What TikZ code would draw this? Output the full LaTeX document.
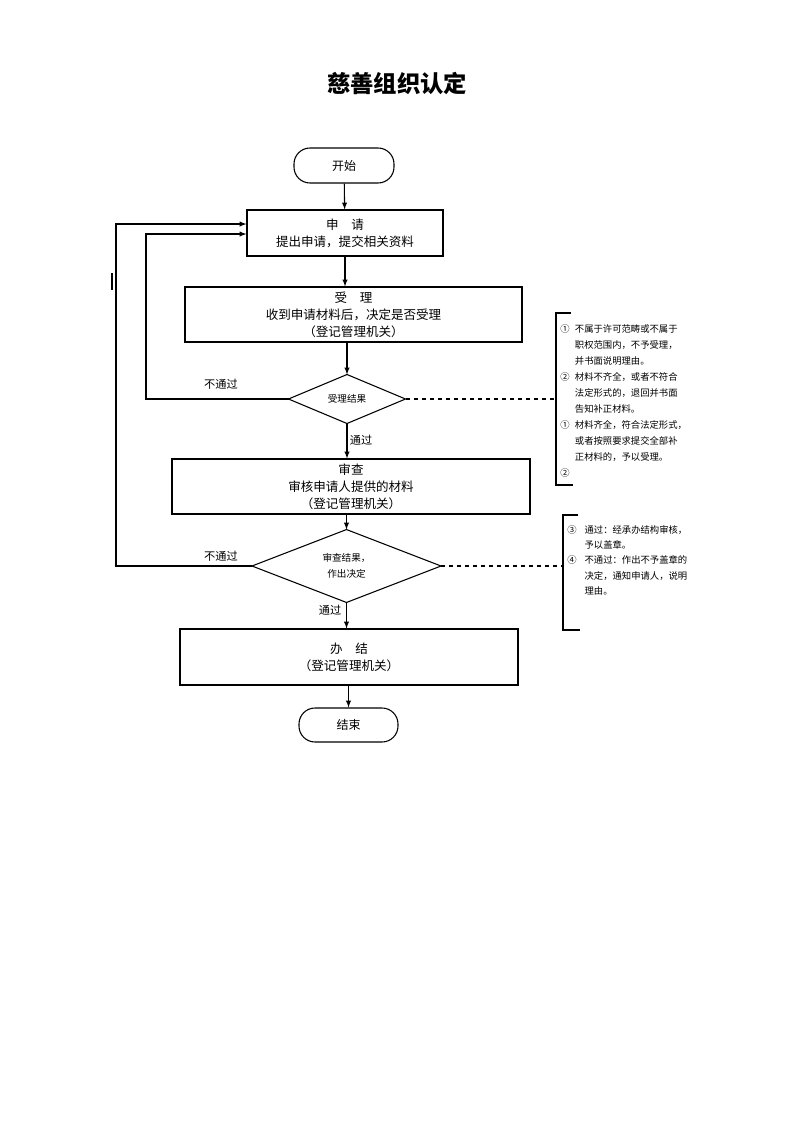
\documentclass[tikz,border=0pt]{standalone}
\usepackage{fontspec}
\setmainfont{Noto Sans CJK SC}
\usetikzlibrary{shapes.geometric}
\tikzset{
  stepbox/.style={draw, line width=0.8pt, rectangle, align=center, inner sep=0pt, font=\fontsize{9.4}{12.8}\selectfont},
  termbox/.style={draw, line width=0.8pt, rounded corners=12pt, inner sep=0pt, font=\fontsize{9}{11}\selectfont},
  checkbox/.style={draw, line width=0.8pt, diamond, inner sep=0pt, outer sep=0pt, align=center, font=\fontsize{7.2}{12}\selectfont},
  flowlabel/.style={font=\fontsize{8.4}{10}\selectfont, inner sep=0pt},
  notetext/.style={anchor=north west, inner sep=0pt},
}
\begin{document}
\begin{tikzpicture}[x=0.75pt, y=-0.75pt, >=latex]
\useasboundingbox (0,0) rectangle (793,1122);
\node[font=\fontsize{17.5}{20}\selectfont\bfseries] (title) at (397,83) {慈善组织认定};
% main column
\node[termbox, minimum width=75pt, minimum height=26.25pt] (start) at (344,165.5) {开始};
\node[stepbox, minimum width=147pt, minimum height=34.5pt] (apply) at (345,233) {申\hspace{1em}请\\提出申请，提交相关资料};
\node[stepbox, minimum width=252.75pt, minimum height=41.25pt] (accept) at (353.5,314.5) {受\hspace{1em}理\\收到申请材料后，决定是否受理\\（登记管理机关）};
\node[checkbox, minimum width=87.75pt, minimum height=36.75pt] (chk1) at (347,399) {受理结果};
\node[stepbox, minimum width=268.5pt, minimum height=41.25pt] (review) at (351,486.5) {审查\\审核申请人提供的材料\\（登记管理机关）};
\node[checkbox, minimum width=141.75pt, minimum height=52.5pt] (chk2) at (346.5,566) {审查结果，\\作出决定};
\node[stepbox, minimum width=253.5pt, minimum height=42pt] (finish) at (349,657) {办\hspace{1em}结\\（登记管理机关）};
\node[termbox, minimum width=74.25pt, minimum height=25.5pt] (stop) at (348.5,725) {结束};
\draw[line width=0.8pt, ->] (start) -- (apply);
\draw[line width=0.8pt, ->] (apply.south) -- (apply.south |- accept.north);
\draw[line width=0.8pt, ->] (accept.south -| chk1.north) -- (chk1.north);
\draw[line width=0.8pt, ->] (chk1.south) -- (chk1.south |- review.north);
\draw[line width=0.8pt, ->] (review.south -| chk2.north) -- (chk2.north);
\draw[line width=0.8pt, ->] (chk2.south) -- (chk2.south |- finish.north);
\draw[line width=0.8pt, ->] (finish.south -| stop.north) -- (stop.north);
% back loops
\coordinate (back1) at (146,234);
\coordinate (back2) at (116,224);
\draw[line width=0.8pt, ->] (chk1.west) -| (back1) -- (apply.west |- back1);
\draw[line width=0.8pt, ->] (chk2.west) -| (back2) -- (apply.west |- back2);
\draw[line width=0.8pt] (112,273) -- (112,290);
\node[flowlabel] (no1) at (221,384) {不通过};
\node[flowlabel] (yes1) at (361,440) {通过};
\node[flowlabel] (no2) at (221,556) {不通过};
\node[flowlabel] (yes2) at (330,610) {通过};
% notes
\coordinate (br1) at (556,313);
\coordinate (br2) at (563,515);
\draw[line width=0.8pt] (571,313) -- (br1) -- (556,485) -- (573,485);
\draw[line width=0.8pt] (578,515) -- (br2) -- (563,630) -- (580,630);
\draw[line width=0.8pt, dashed] (chk1.east) -- (chk1.east -| br1);
\draw[line width=0.8pt, dashed] (chk2.east) -- (chk2.east -| br2);
\node[notetext, font=\fontsize{7}{12}\selectfont] (note1) at (560,321) {%
\begin{tabular}{@{}c@{\hspace{4pt}}l@{}}
① & 不属于许可范畴或不属于\\
  & 职权范围内，不予受理，\\
  & 并书面说明理由。\\
② & 材料不齐全，或者不符合\\
  & 法定形式的，退回并书面\\
  & 告知补正材料。\\
① & 材料齐全，符合法定形式，\\
  & 或者按照要求提交全部补\\
  & 正材料的，予以受理。\\
② & \\
\end{tabular}};
\node[notetext, font=\fontsize{7}{11.3}\selectfont] (note2) at (567,523) {%
\begin{tabular}{@{}c@{\hspace{6pt}}l@{}}
③ & 通过：经承办结构审核，\\
  & 予以盖章。\\
④ & 不通过：作出不予盖章的\\
  & 决定，通知申请人，说明\\
  & 理由。\\
\end{tabular}};
\end{tikzpicture}
\end{document}
